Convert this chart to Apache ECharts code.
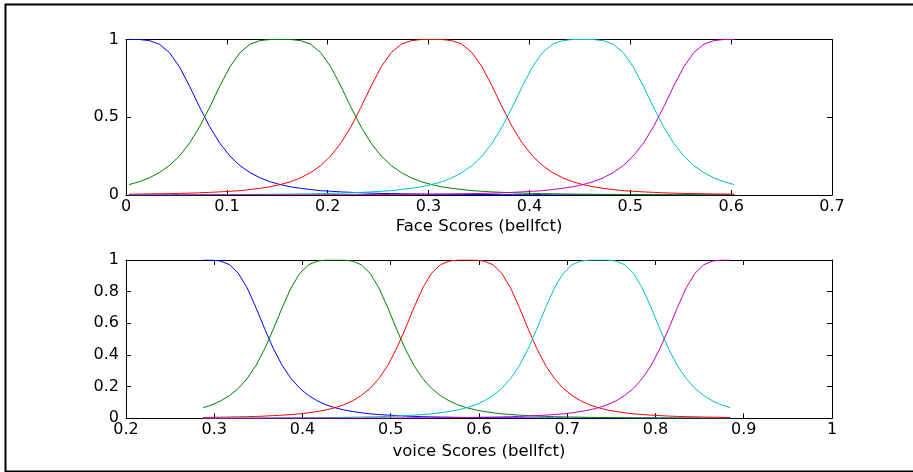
<!DOCTYPE html>
<html>
<head>
<meta charset="utf-8">
<script src="https://cdn.jsdelivr.net/npm/echarts@6/dist/echarts.min.js"></script>
<style>html,body{margin:0;padding:0;background:#fff}#c{width:913px;height:472px}</style>
</head>
<body>
<div id="c"></div>
<script>
// x sample positions
var faceX = [0.003,0.013,0.023,0.033,0.043,0.053,0.063,0.073,0.083,0.093,
0.103,0.113,0.123,0.133,0.143,0.153,0.163,0.173,0.183,0.193,
0.203,0.213,0.223,0.233,0.243,0.253,0.263,0.273,0.283,0.293,
0.303,0.313,0.323,0.333,0.343,0.353,0.363,0.373,0.383,0.393,
0.403,0.413,0.423,0.433,0.443,0.453,0.463,0.473,0.483,0.493,
0.503,0.513,0.523,0.533,0.543,0.553,0.563,0.573,0.583,0.593,
0.603];
var voiceX = [0.2875,0.2974,0.3074,0.3174,0.3273,0.3373,0.3472,0.3572,0.3671,0.3771,
0.3870,0.3970,0.4069,0.4169,0.4268,0.4368,0.4467,0.4567,0.4666,0.4766,
0.4865,0.4965,0.5064,0.5164,0.5263,0.5363,0.5462,0.5562,0.5661,0.5761,
0.5860,0.5960,0.6059,0.6159,0.6258,0.6358,0.6457,0.6557,0.6656,0.6756,
0.6855,0.6955,0.7054,0.7154,0.7253,0.7353,0.7452,0.7552,0.7651,0.7751,
0.7850,0.7950,0.8049,0.8149,0.8248,0.8348,0.8447,0.8547,0.8646,0.8746,
0.8845];

// membership values (same shape read for both panels)
var mf1 = [1.000,1.000,0.993,0.970,0.916,0.824,0.700,0.565,0.439,0.333,
0.251,0.189,0.144,0.110,0.085,0.067,0.053,0.043,0.035,0.028,
0.024,0.020,0.017,0.014,0.012,0.010,0.009,0.008,0.007,0.006,
0.005,0.005,0.004,0.004,0.003,0.003,0.003,0.002,0.002,0.002,
0.002,0.002,0.001,0.001,0.001,0.001,0.001,0.001,0.001,0.001,
0.001,0.001,0.001,0.001,0.000,0.000,0.000,0.000,0.000,0.000,
0.000];
var mf2 = [0.067,0.085,0.110,0.144,0.189,0.251,0.333,0.439,0.565,0.700,
0.824,0.916,0.970,0.993,1.000,1.000,1.000,0.993,0.970,0.916,
0.824,0.700,0.565,0.439,0.333,0.251,0.189,0.144,0.110,0.085,
0.067,0.053,0.043,0.035,0.028,0.024,0.020,0.017,0.014,0.012,
0.010,0.009,0.008,0.007,0.006,0.005,0.005,0.004,0.004,0.003,
0.003,0.003,0.002,0.002,0.002,0.002,0.002,0.001,0.001,0.001,
0.001];
var mf3 = [0.005,0.006,0.007,0.008,0.009,0.010,0.012,0.014,0.017,0.020,
0.024,0.028,0.035,0.043,0.053,0.067,0.085,0.110,0.144,0.189,
0.251,0.333,0.439,0.565,0.700,0.824,0.916,0.970,0.993,1.000,
1.000,1.000,0.993,0.970,0.916,0.824,0.700,0.565,0.439,0.333,
0.251,0.189,0.144,0.110,0.085,0.067,0.053,0.043,0.035,0.028,
0.024,0.020,0.017,0.014,0.012,0.010,0.009,0.008,0.007,0.006,
0.005];
var mf4 = [0.001,0.001,0.001,0.001,0.002,0.002,0.002,0.002,0.002,0.003,
0.003,0.003,0.004,0.004,0.005,0.005,0.006,0.007,0.008,0.009,
0.010,0.012,0.014,0.017,0.020,0.024,0.028,0.035,0.043,0.053,
0.067,0.085,0.110,0.144,0.189,0.251,0.333,0.439,0.565,0.700,
0.824,0.916,0.970,0.993,1.000,1.000,1.000,0.993,0.970,0.916,
0.824,0.700,0.565,0.439,0.333,0.251,0.189,0.144,0.110,0.085,
0.067];
var mf5 = [0.000,0.000,0.000,0.000,0.000,0.000,0.000,0.001,0.001,0.001,
0.001,0.001,0.001,0.001,0.001,0.001,0.001,0.001,0.001,0.002,
0.002,0.002,0.002,0.002,0.003,0.003,0.003,0.004,0.004,0.005,
0.005,0.006,0.007,0.008,0.009,0.010,0.012,0.014,0.017,0.020,
0.024,0.028,0.035,0.043,0.053,0.067,0.085,0.110,0.144,0.189,
0.251,0.333,0.439,0.565,0.700,0.824,0.916,0.970,0.993,1.000,
1.000];

var faceTicks = [0, 0.7, 0.1];
var voiceTicks = [0.2, 1, 0.1];
var colors = ['#0000ff', '#008000', '#ff0000', '#00bfbf', '#bf00bf'];
var mfs = [mf1, mf2, mf3, mf4, mf5];

var FONT = 'DejaVu Sans, Verdana, sans-serif';
function pairs(xs, ys) { return xs.map(function (x, i) { return [x, ys[i]]; }); }

function xAx(grid, t, name, show, gap) {
  return {
    type: 'value', gridIndex: grid, min: t[0], max: t[1], interval: t[2],
    position: show ? 'bottom' : 'top',
    name: show ? name : '', nameLocation: 'middle', nameGap: gap || 21,
    nameTextStyle: { color: '#000', fontFamily: FONT, fontSize: 16.5, verticalAlign: 'top' },
    axisLine: { show: true, onZero: false, lineStyle: { color: '#000', width: 1 } },
    axisTick: { show: true, inside: true, length: 5, lineStyle: { color: '#000' } },
    axisLabel: { show: show, color: '#000', fontFamily: FONT, fontSize: 16, margin: 4 },
    splitLine: { show: false }
  };
}
function yAx(grid, interval, show) {
  return {
    type: 'value', gridIndex: grid, min: 0, max: 1, interval: interval,
    position: show ? 'left' : 'right',
    axisLine: { show: true, onZero: false, lineStyle: { color: '#000', width: 1 } },
    axisTick: { show: true, inside: true, length: 5, lineStyle: { color: '#000' } },
    axisLabel: { show: show, color: '#000', fontFamily: FONT, fontSize: 16, margin: 7 },
    splitLine: { show: false }
  };
}

var series = [];
mfs.forEach(function (m, k) {
  series.push({ type: 'line', xAxisIndex: 0, yAxisIndex: 0, data: pairs(faceX, m),
    showSymbol: false, symbol: 'none', lineStyle: { color: colors[k], width: 1 }, z: 2 + k, animation: false });
  series.push({ type: 'line', xAxisIndex: 2, yAxisIndex: 2, data: pairs(voiceX, m),
    showSymbol: false, symbol: 'none', lineStyle: { color: colors[k], width: 1 }, z: 2 + k, animation: false });
});

var chart = echarts.init(document.getElementById('c'), null, { renderer: 'canvas' });
chart.setOption({
  backgroundColor: '#fff',
  animation: false,
  graphic: [{
    type: 'rect', left: 3, top: 2, silent: true,
    shape: { x: 0, y: 0, width: 960, height: 467 },
    style: { fill: 'none', stroke: '#000', lineWidth: 2 }, z: 100
  }],
  grid: [
    { left: 126, top: 39.5, width: 706, height: 155.5 },
    { left: 126, top: 260, width: 706, height: 158.3 }
  ],
  xAxis: [
    xAx(0, faceTicks, 'Face Scores (bellfct)', true, 23),
    xAx(0, faceTicks, '', false),
    xAx(1, voiceTicks, 'voice Scores (bellfct)', true, 25),
    xAx(1, voiceTicks, '', false)
  ],
  yAxis: [
    yAx(0, 0.5, true),
    yAx(0, 0.5, false),
    yAx(1, 0.2, true),
    yAx(1, 0.2, false)
  ],
  series: series
});
</script>
</body>
</html>
